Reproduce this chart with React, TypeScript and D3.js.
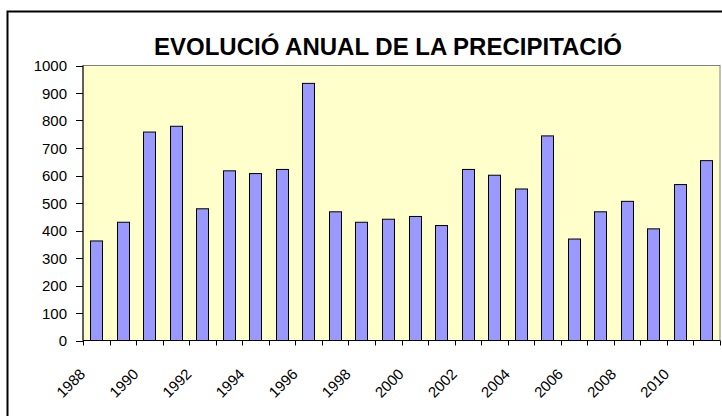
import * as d3 from 'd3';

const years = [
  1988, 1989, 1990, 1991, 1992, 1993, 1994, 1995, 1996, 1997, 1998, 1999,
  2000, 2001, 2002, 2003, 2004, 2005, 2006, 2007, 2008, 2009, 2010, 2011,
];
const precip = [
  362, 430, 758, 779, 479, 617, 607, 622, 935, 468, 430, 441,
  451, 418, 622, 601, 551, 744, 369, 468, 506, 406, 567, 654,
];
const yTicks = [0, 100, 200, 300, 400, 500, 600, 700, 800, 900, 1000];
const labelYears = [1988, 1990, 1992, 1994, 1996, 1998, 2000, 2002, 2004, 2006, 2008, 2010];

const W = 722;
const H = 416;
const font = '"Liberation Sans", Arial, sans-serif';

export default function App() {
  const plot = { left: 83, right: 720, top: 65.5, bottom: 340.5 };

  const x = d3
    .scaleBand<number>()
    .domain(years)
    .range([plot.left, plot.right])
    .padding(0);
  const y = d3.scaleLinear().domain([0, 1000]).range([plot.bottom, plot.top]);

  const step = x.step();
  const barW = step * 0.47;

  // tick marks sit on the category boundaries
  const xTickPos = years.map((yr) => x(yr) as number).concat([plot.right]);

  return (
    <svg
      width={W}
      height={H}
      style={{ position: 'fixed', left: 0, top: 0, display: 'block' }}
      fontFamily={font}
    >
      <rect x={0} y={0} width={W} height={H} fill="#ffffff" />
      <rect
        x={7.5}
        y={11.5}
        width={740}
        height={440}
        fill="none"
        stroke="#000"
        strokeWidth={2}
      />

      <text
        x={388}
        y={55}
        textAnchor="middle"
        fontSize={24}
        fontWeight="bold"
        fill="#000"
      >
        EVOLUCIÓ ANUAL DE LA PRECIPITACIÓ
      </text>

      <rect
        x={plot.left}
        y={plot.top}
        width={plot.right - plot.left}
        height={plot.bottom - plot.top}
        fill="#FFFFCC"
        stroke="#808080"
        strokeWidth={1}
      />

      {years.map((yr, i) => {
        const cx = (x(yr) as number) + step / 2;
        return (
          <rect
            key={yr}
            x={Math.round(cx - barW / 2) + 0.5}
            y={y(precip[i])}
            width={Math.round(barW)}
            height={plot.bottom - y(precip[i])}
            fill="#9999FF"
            stroke="#000"
            strokeWidth={1}
          />
        );
      })}

      {/* y axis */}
      <line x1={plot.left} x2={plot.left} y1={plot.top} y2={plot.bottom} stroke="#000" />
      {yTicks.map((t) => (
        <g key={t}>
          <line
            x1={plot.left - 7}
            x2={plot.left}
            y1={Math.round(y(t)) + 0.5}
            y2={Math.round(y(t)) + 0.5}
            stroke="#000"
          />
          <text
            x={plot.left - 16}
            y={y(t) + 5.5}
            textAnchor="end"
            fontSize={15}
            fill="#000"
          >
            {t}
          </text>
        </g>
      ))}

      {/* x axis */}
      <line x1={plot.left} x2={plot.right} y1={plot.bottom} y2={plot.bottom} stroke="#000" />
      {xTickPos.map((p, i) => (
        <line
          key={i}
          x1={Math.round(p) + 0.5}
          x2={Math.round(p) + 0.5}
          y1={plot.bottom}
          y2={plot.bottom + 5}
          stroke="#000"
        />
      ))}
      {labelYears.map((yr) => {
        const lx = (x(yr) as number) + step / 2 - 10;
        const ly = 375;
        return (
          <text
            key={yr}
            x={lx}
            y={ly}
            textAnchor="end"
            fontSize={15}
            fill="#000"
            transform={`rotate(-45 ${lx} ${ly})`}
          >
            {yr}
          </text>
        );
      })}
    </svg>
  );
}
